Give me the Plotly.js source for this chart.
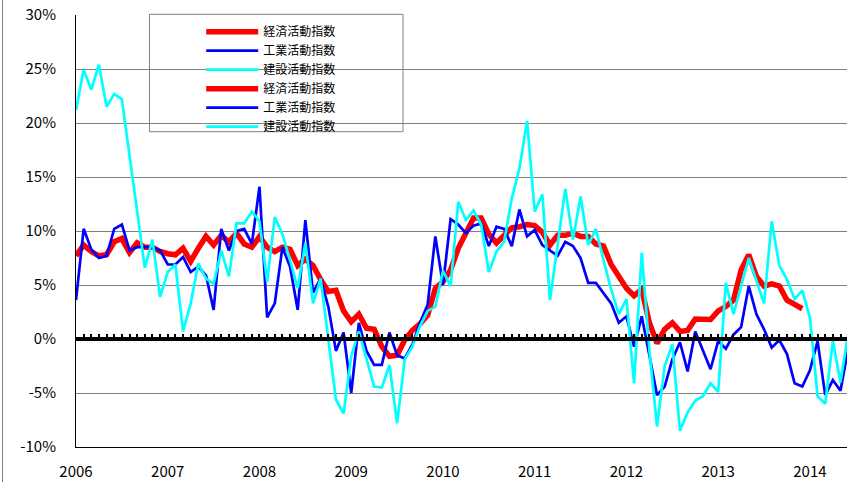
<!DOCTYPE html>
<html><head><meta charset="utf-8">
<script src="https://cdn.plot.ly/plotly-3.0.1.min.js"></script>
<style>html,body{margin:0;padding:0;background:#fff}#chart{width:847px;height:482px}</style>
</head><body><div id="chart"></div>
<script>
const YEARS = [2006, 2007, 2008, 2009, 2010, 2011, 2012, 2013, 2014];
const MONTHS = [];
YEARS.forEach(function (y) { for (let m = 1; m <= 12; m++) MONTHS.push(y + '-' + (m < 10 ? '0' + m : m)); });

const SERIES_NAMES = ['経済活動指数', '工業活動指数', '建設活動指数'];

// 経済活動指数 (2006-01 .. 2013-12)
const ECON = [
  7.7, 8.7, 8.1, 7.7, 7.8, 9.0, 9.3, 8.0, 8.9, 8.5, 8.5, 8.1,
  7.9, 7.8, 8.4, 7.2, 8.4, 9.5, 8.7, 9.6, 9.0, 9.8, 8.8, 8.5,
  9.5, 8.5, 8.1, 8.5, 8.3, 6.8, 7.4, 6.8, 5.5, 4.4, 4.5, 2.6,
  1.6, 2.3, 1.0, 0.9, -0.7, -1.6, -1.5, -0.1, 0.8, 1.4, 2.2, 4.7,
  5.3, 6.4, 8.4, 9.8, 11.2, 11.2, 9.7, 8.9, 9.6, 10.3, 10.4, 10.6,
  10.5, 9.9, 8.7, 9.6, 9.6, 9.8, 9.5, 9.5, 8.8, 8.6, 6.9, 5.9,
  4.7, 4.0, 4.6, 1.5, -0.4, 0.9, 1.5, 0.7, 0.8, 1.85, 1.85, 1.8,
  2.6, 3.0, 3.6, 6.4, 7.8, 5.8, 4.9, 5.1, 4.9, 3.6, 3.2, 2.8
];
// 工業活動指数 (2006-01 .. 2014-06)
const INDUSTRY = [
  3.6, 10.2, 8.3, 7.5, 7.7, 10.2, 10.6, 8.2, 8.5, 8.5, 8.5, 8.2,
  6.9, 6.9, 7.6, 6.2, 6.7, 5.9, 2.7, 10.2, 8.2, 10.0, 10.2, 8.8,
  14.1, 2.0, 3.3, 8.5, 6.7, 2.7, 11.0, 4.3, 5.6, 3.0, -1.1, 0.6,
  -5.0, 1.5, -1.1, -2.4, -2.4, 0.6, -1.5, -1.8, -0.5, 1.5, 3.2, 9.5,
  5.0, 11.1, 10.6, 9.8, 10.5, 10.7, 8.6, 10.4, 10.2, 8.6, 12.0, 9.5,
  10.1, 8.7, 8.2, 7.7, 9.0, 8.6, 7.5, 5.2, 5.2, 4.2, 3.3, 1.5,
  2.1, -0.7, 2.1, -1.5, -5.2, -4.4, -1.9, -0.3, -3.0, 0.7, -1.0, -2.8,
  -0.2, -0.9, 0.4, 1.1, 4.9, 2.3, 0.9, -0.8, -0.1, -1.4, -4.1, -4.4,
  -2.9, -0.2, -5.2, -3.8, -4.8, -0.9
];
// 建設活動指数 (2006-01 .. 2014-06)
const CONSTRUCTION = [
  21.2, 24.9, 23.1, 25.4, 21.5, 22.7, 22.2, 16.9, 11.7, 6.6, 9.2, 3.9,
  6.2, 6.9, 0.7, 3.3, 7.0, 5.6, 5.1, 8.2, 5.8, 10.7, 10.7, 11.8,
  10.9, 5.3, 11.3, 9.7, 7.3, 4.7, 8.9, 3.3, 5.6, 0.2, -5.6, -6.9,
  -1.6, 0.7, -1.9, -4.4, -4.5, -2.4, -7.8, -1.9, -0.7, 1.2, 2.6, 3.0,
  6.3, 4.9, 12.7, 11.0, 11.9, 10.6, 6.2, 8.1, 9.0, 13.0, 15.8, 20.2,
  11.8, 13.4, 3.6, 8.8, 13.9, 9.2, 13.2, 8.7, 10.2, 7.3, 4.6, 2.3,
  3.7, -4.1, 8.0, -1.0, -8.1, -2.5, -0.5, -8.5, -6.8, -5.7, -5.3, -4.1,
  -4.9, 5.2, 2.3, 4.9, 7.5, 5.4, 3.3, 10.9, 6.8, 5.5, 3.7, 4.5,
  2.0, -5.3, -6.0, -0.2, -4.0, 0.5
];

const YEAR_TICKS = YEARS.map(function (y) { return y + '-01'; });
const YEAR_LABELS = YEARS.map(String);
const Y_TICKS = [-10, -5, 0, 5, 10, 15, 20, 25, 30];
const Y_LABELS = ['-10%', '-5%', '0%', '5%', '10%', '15%', '20%', '25%', '30%'];

const COLORS = ['#FF0000', '#0000FF', '#00FFFF'];
const WIDTHS = [5.5, 2.7, 2.7];
const DATA = [ECON, INDUSTRY, CONSTRUCTION];

const FONT = '"Noto Sans CJK JP", "Noto Sans", sans-serif';
const X_RANGE = [0, 100.85];

const traces = [];
DATA.forEach(function (vals, k) {
  traces.push({
    type: 'scatter', mode: 'lines', name: SERIES_NAMES[k],
    x: MONTHS.slice(0, vals.length), y: vals,
    line: { color: COLORS[k], width: WIDTHS[k] },
    legendrank: k + 1, hoverinfo: 'skip'
  });
});
// second set of legend entries (duplicates shown in the original legend)
DATA.forEach(function (vals, k) {
  traces.push({
    type: 'scatter', mode: 'lines', name: SERIES_NAMES[k],
    x: [MONTHS[0]], y: [null],
    line: { color: COLORS[k], width: WIDTHS[k] },
    legendrank: k + 4, hoverinfo: 'skip'
  });
});
// carrier trace for the zero-level tick axis
traces.push({
  type: 'scatter', mode: 'lines', x: MONTHS.slice(0, INDUSTRY.length),
  y: INDUSTRY.map(function () { return null; }),
  xaxis: 'x2', yaxis: 'y', showlegend: false, hoverinfo: 'skip'
});

const layout = {
  width: 847, height: 482,
  margin: { l: 76, r: 0, t: 15, b: 35 },
  paper_bgcolor: '#ffffff', plot_bgcolor: '#ffffff',
  font: { family: FONT, color: '#000000', size: 15 },
  showlegend: true,
  xaxis: {
    type: 'category', categoryorder: 'array', categoryarray: MONTHS,
    range: X_RANGE, tickmode: 'array', tickvals: YEAR_TICKS, ticktext: YEAR_LABELS,
    showgrid: false, zeroline: false, showline: true, linecolor: '#000000', linewidth: 1,
    ticks: '', ticklabelstandoff: 11,
    tickfont: { family: FONT, size: 15, color: '#000000' }
  },
  xaxis2: {
    type: 'category', categoryorder: 'array', categoryarray: MONTHS,
    range: X_RANGE, overlaying: 'x', anchor: 'free', position: 0.25, side: 'bottom',
    showgrid: false, zeroline: false, showticklabels: false,
    showline: true, linecolor: '#000000', linewidth: 4,
    tickmode: 'linear', tick0: 0, dtick: 1,
    ticks: 'inside', ticklen: 3, tickwidth: 2, tickcolor: '#000000'
  },
  yaxis: {
    range: [-10, 30], tickmode: 'array', tickvals: Y_TICKS, ticktext: Y_LABELS,
    showgrid: true, gridcolor: '#808080', gridwidth: 1, zeroline: false,
    showline: true, linecolor: '#000000', linewidth: 1, ticks: '', ticklabelstandoff: 16,
    tickfont: { family: FONT, size: 15, color: '#000000' }
  },
  legend: {
    x: 0.1624, xanchor: 'left', y: 0.995, yanchor: 'top',
    bgcolor: 'rgba(0,0,0,0)', borderwidth: 0, itemwidth: 52,
    font: { family: FONT, size: 12, color: '#000000' },
    traceorder: 'normal'
  },
  shapes: [
    { type: 'rect', xref: 'x domain', yref: 'y domain', layer: 'below',
      x0: (149.5 - 76) / 771, x1: (403 - 76) / 771, y0: (447 - 131.7) / 432, y1: (447 - 14.3) / 432,
      fillcolor: '#ffffff', line: { color: '#808080', width: 1 } },
    { type: 'line', xref: 'paper', yref: 'paper', layer: 'above',
      x0: (2.5 - 76) / 771, x1: (2.5 - 76) / 771, y0: -0.2, y1: 1.1,
      line: { color: '#808080', width: 1 } }
  ]
};

Plotly.newPlot('chart', traces, layout, { displayModeBar: false, staticPlot: true });
</script>
</body></html>
